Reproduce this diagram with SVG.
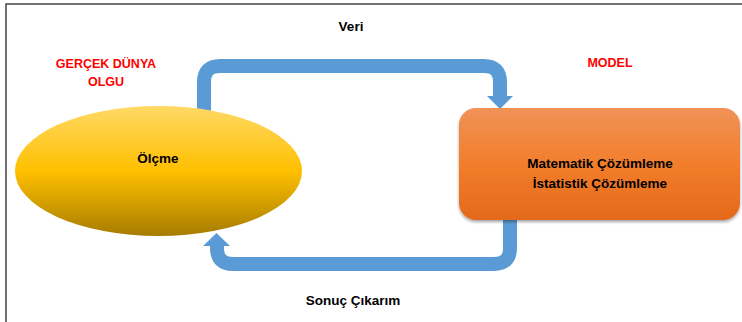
<svg xmlns="http://www.w3.org/2000/svg" width="742" height="322" viewBox="0 0 742 322">
  <style>
    .lbl { font-family: "Liberation Sans", Arial, sans-serif; font-weight: bold; font-size: 13.5px; fill: #000; text-anchor: middle; }
    .red { fill: #FF0000; font-size: 12.5px; }
    .conn { fill: none; stroke: #5B9BD5; stroke-width: 14; }
    .head { fill: #5B9BD5; }
  </style>
  <defs>
    <linearGradient id="gEll" x1="0" y1="0" x2="0" y2="1">
      <stop offset="0" stop-color="#FFD966"/>
      <stop offset="0.5" stop-color="#FFC000"/>
      <stop offset="1" stop-color="#A67C00"/>
    </linearGradient>
    <linearGradient id="gRect" x1="0" y1="0" x2="0" y2="1">
      <stop offset="0" stop-color="#F09257"/>
      <stop offset="0.5" stop-color="#F27E2C"/>
      <stop offset="1" stop-color="#E3691A"/>
    </linearGradient>
    <filter id="sh" x="-10%" y="-10%" width="120%" height="130%">
      <feDropShadow dx="0" dy="2" stdDeviation="1.5" flood-color="#000" flood-opacity="0.35"/>
    </filter>
  </defs>
  <rect width="742" height="322" fill="#fff"/>
  <path d="M6 322 V4 H742" fill="none" stroke="#444" stroke-width="1.5"/>

  <g id="connectors">
    <path class="conn" d="M204 112 V82 Q204 66 220 66 H484 Q500 66 500 82 V97"/>
    <polygon class="head" points="487,96 513,96 500,109"/>
    <path class="conn" d="M510 216 V248 Q510 264 494 264 H233 Q217 264 217 248 V245"/>
    <polygon class="head" points="203,246 230,246 216.5,233"/>
    <text class="lbl" x="351" y="31">Veri</text>
    <text class="lbl" x="353" y="305">Sonuç Çıkarım</text>
  </g>

  <g id="olcme">
    <ellipse cx="158.5" cy="171" rx="143.5" ry="65" fill="url(#gEll)"/>
    <text class="lbl" x="158" y="163">Ölçme</text>
  </g>

  <g id="model-box">
    <rect x="459" y="108" width="281" height="112" rx="17" fill="url(#gRect)" filter="url(#sh)"/>
    <text class="lbl" x="600" y="168">Matematik Çözümleme</text>
    <text class="lbl" x="600" y="188">İstatistik Çözümleme</text>
  </g>

  <g id="title-left">
    <text class="lbl red" x="106" y="68">GERÇEK DÜNYA</text>
    <text class="lbl red" x="106" y="86">OLGU</text>
  </g>
  <g id="title-right">
    <text class="lbl red" x="610" y="67">MODEL</text>
  </g>
</svg>
